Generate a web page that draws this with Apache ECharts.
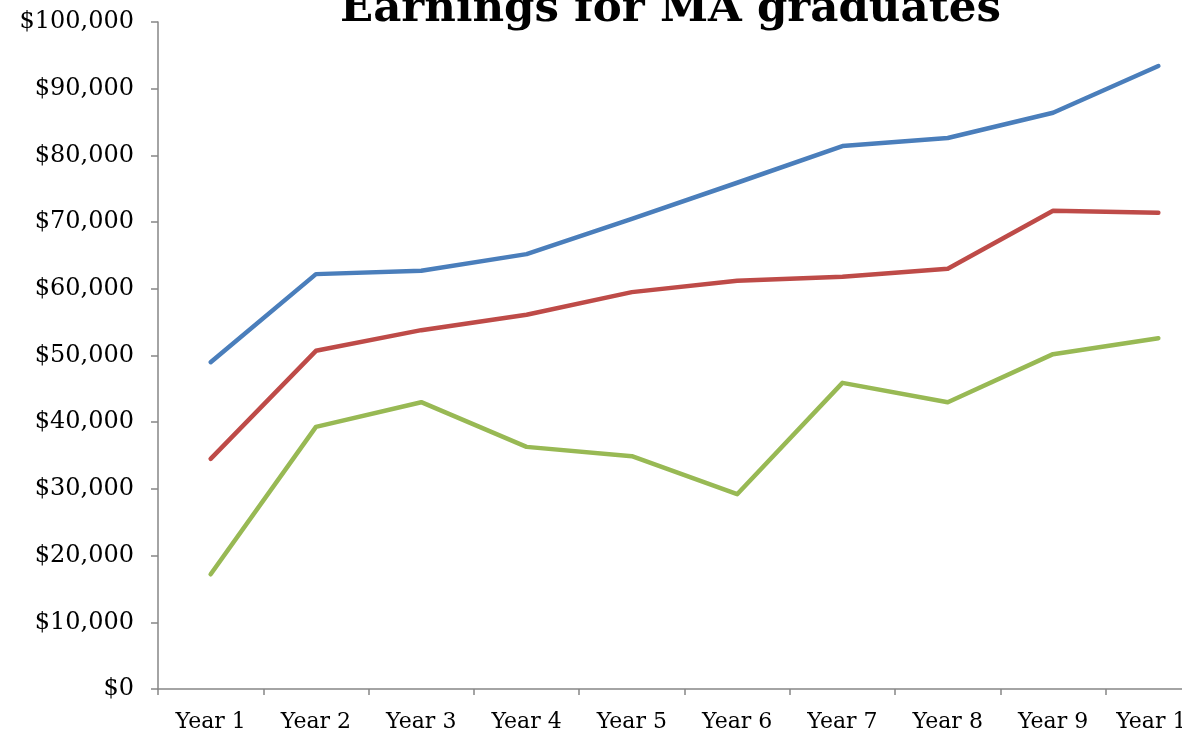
<!DOCTYPE html>
<html>
<head>
<meta charset="utf-8">
<script src="https://cdn.jsdelivr.net/npm/echarts@6/dist/echarts.min.js"></script>
<style>
  html, body { margin: 0; padding: 0; overflow: hidden; background: #fff; }
  #chart { width: 1240px; height: 736px; }
</style>
</head>
<body>
<div id="chart"></div>
<script>
// categories + series
const years = ['Year 1', 'Year 2', 'Year 3', 'Year 4', 'Year 5', 'Year 6', 'Year 7', 'Year 8', 'Year 9', 'Year 10']
const upper = [49000, 62200, 62700, 65200, 70500, 75900, 81400, 82600, 86400, 93400]
const middle = [34500, 50700, 53800, 56100, 59500, 61200, 61800, 63000, 71700, 71400]
const lower = [17200, 39300, 43000, 36300, 34900, 29200, 45900, 43000, 50200, 52600]

const font = '"DejaVu Serif", "Liberation Serif", serif'
const axisGrey = '#868686'

const chart = echarts.init(document.getElementById('chart'))

const line = (name, data, color) => ({
  name,
  type: 'line',
  data,
  showSymbol: false,
  symbol: 'none',
  lineStyle: { color, width: 4.5, cap: 'round', join: 'round' },
  itemStyle: { color }
})

chart.setOption({
  animation: false,
  title: {
    text: 'Earnings for MA graduates',
    left: 340,
    top: -12,
    padding: 0,
    textStyle: { fontFamily: font, fontSize: 43.5, fontWeight: 'bold', color: '#000' }
  },
  grid: { left: 158, right: 29, top: 22, bottom: 47, containLabel: false },
  xAxis: {
    type: 'category',
    data: years,
    boundaryGap: true,
    axisLine: { lineStyle: { color: axisGrey, width: 1.5 } },
    axisTick: { show: true, length: 6, lineStyle: { color: axisGrey, width: 1.5 } },
    axisLabel: { fontFamily: font, fontSize: 22, color: '#000', margin: 22, interval: 0 },
    splitLine: { show: false }
  },
  yAxis: {
    type: 'value',
    min: 0,
    max: 100000,
    interval: 10000,
    axisLine: { show: true, lineStyle: { color: axisGrey, width: 1.5 } },
    axisTick: { show: true, length: 7, lineStyle: { color: axisGrey, width: 1.5 } },
    axisLabel: {
      fontFamily: font,
      fontSize: 24,
      color: '#000',
      margin: 24,
      formatter: v => '$' + v.toLocaleString('en-US')
    },
    splitLine: { show: false }
  },
  series: [
    line('Upper', upper, '#4a7ebb'),
    line('Middle', middle, '#be4b48'),
    line('Lower', lower, '#98b954')
  ]
})
</script>
</body>
</html>
